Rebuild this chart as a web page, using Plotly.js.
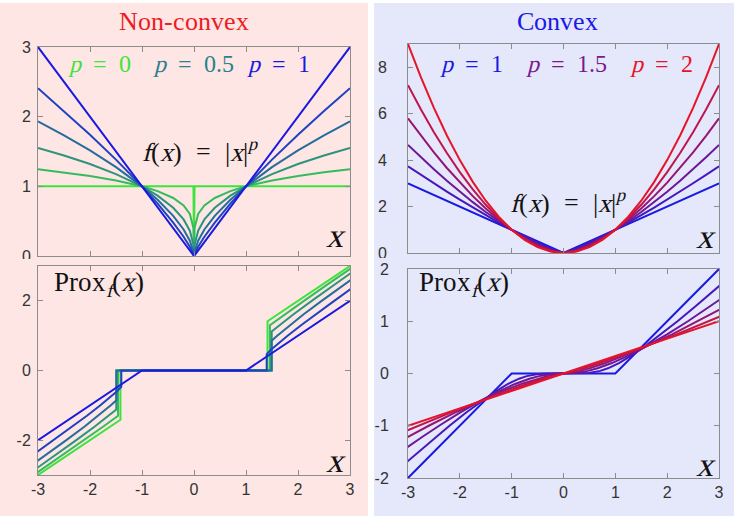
<!DOCTYPE html>
<html>
<head>
<meta charset="utf-8">
<script src="https://cdn.plot.ly/plotly-3.0.1.min.js"></script>
<style>
@font-face { font-family: 'MathSerif'; src: local('Liberation Serif'), local('LiberationSerif'), local('Liberation Serif Regular'); font-style: normal; font-weight: 400; }
html,body{margin:0;padding:0;background:#fff;}
#chart{width:734px;height:516px;}
</style>
</head>
<body>
<div id="chart"></div>
<script>
// ---------------- DATA ----------------
// Top-left: f(x)=|x|^p, p = 0, 0.2, 0.4, 0.6, 0.8, 1
const ncP = ['0', '0.2', '0.4', '0.6', '0.8', '1'];
const ncFx = [-3, -2.5, -2, -1.5, -1, -0.7, -0.4, -0.2, -0.08, -0.01, 0, 0.01, 0.08, 0.2, 0.4, 0.7, 1, 1.5, 2, 2.5, 3];
const ncF_p0  = [1, 1, 1, 1, 1, 1, 1, 1, 1, 1, 0, 1, 1, 1, 1, 1, 1, 1, 1, 1, 1];
const ncF_p02 = [1.246, 1.201, 1.149, 1.084, 1, 0.931, 0.833, 0.725, 0.603, 0.398, 0, 0.398, 0.603, 0.725, 0.833, 0.931, 1, 1.084, 1.149, 1.201, 1.246];
const ncF_p04 = [1.552, 1.443, 1.320, 1.176, 1, 0.867, 0.693, 0.525, 0.364, 0.158, 0, 0.158, 0.364, 0.525, 0.693, 0.867, 1, 1.176, 1.320, 1.443, 1.552];
const ncF_p06 = [1.933, 1.733, 1.516, 1.275, 1, 0.807, 0.577, 0.381, 0.220, 0.063, 0, 0.063, 0.220, 0.381, 0.577, 0.807, 1, 1.275, 1.516, 1.733, 1.933];
const ncF_p08 = [2.408, 2.081, 1.741, 1.383, 1, 0.752, 0.480, 0.276, 0.133, 0.025, 0, 0.025, 0.133, 0.276, 0.480, 0.752, 1, 1.383, 1.741, 2.081, 2.408];
const ncF_p1  = [3, 2.5, 2, 1.5, 1, 0.7, 0.4, 0.2, 0.08, 0.01, 0, 0.01, 0.08, 0.2, 0.4, 0.7, 1, 1.5, 2, 2.5, 3];

// Bottom-left: Prox_f(x) for the same p
const ncProxX_p0  = [-3, -1.414, -1.414, 1.414, 1.414, 3];
const ncProxY_p0  = [-3, -1.414, 0, 0, 1.414, 3];
const ncProxX_p02 = [-3.083, -2.596, -2.115, -1.737, -1.599, -1.460, -1.460, 1.460, 1.460, 1.599, 1.737, 2.115, 2.596, 3.083];
const ncProxY_p02 = [-3, -2.5, -2, -1.6, -1.45, -1.298, 0, 0, 1.298, 1.45, 1.6, 2, 2.5, 3];
const ncProxX_p04 = [-3.207, -2.731, -2.264, -1.902, -1.642, -1.494, -1.494, 1.494, 1.494, 1.642, 1.902, 2.264, 2.731, 3.207];
const ncProxY_p04 = [-3, -2.5, -2, -1.6, -1.3, -1.121, 0, 0, 1.121, 1.3, 1.6, 2, 2.5, 3];
const ncProxX_p06 = [-3.387, -2.916, -2.455, -2.097, -1.840, -1.6, -1.492, -1.492, 1.492, 1.492, 1.6, 1.840, 2.097, 2.455, 2.916, 3.387];
const ncProxY_p06 = [-3, -2.5, -2, -1.6, -1.3, -1, -0.853, 0, 0, 0.853, 1, 1.3, 1.6, 2, 2.5, 3];
const ncProxX_p08 = [-3.166, -2.697, -2.328, -2.059, -1.8, -1.637, -1.486, -1.398, -1.398, 1.398, 1.398, 1.486, 1.637, 1.8, 2.059, 2.328, 2.697, 3.166];
const ncProxY_p08 = [-2.5, -2, -1.6, -1.3, -1, -0.8, -0.6, -0.466, 0, 0, 0.466, 0.6, 0.8, 1, 1.3, 1.6, 2, 2.5];
const ncProxX_p1  = [-3, -1, 1, 3];
const ncProxY_p1  = [-2, 0, 0, 2];

// Top-right: f(x)=|x|^p, p = 1, 1.2, 1.4, 1.6, 1.8, 2
const cvP = ['1', '1.2', '1.4', '1.6', '1.8', '2'];
const cvFx = [-3, -2.75, -2.5, -2.25, -2, -1.75, -1.5, -1.25, -1, -0.75, -0.5, -0.25, 0, 0.25, 0.5, 0.75, 1, 1.25, 1.5, 1.75, 2, 2.25, 2.5, 2.75, 3];
const cvF_p1  = [3, 2.75, 2.5, 2.25, 2, 1.75, 1.5, 1.25, 1, 0.75, 0.5, 0.25, 0, 0.25, 0.5, 0.75, 1, 1.25, 1.5, 1.75, 2, 2.25, 2.5, 2.75, 3];
const cvF_p12 = [3.737, 3.367, 3.003, 2.646, 2.297, 1.958, 1.627, 1.307, 1, 0.708, 0.435, 0.189, 0, 0.189, 0.435, 0.708, 1, 1.307, 1.627, 1.958, 2.297, 2.646, 3.003, 3.367, 3.737];
const cvF_p14 = [4.656, 4.122, 3.607, 3.113, 2.639, 2.189, 1.764, 1.367, 1, 0.668, 0.379, 0.144, 0, 0.144, 0.379, 0.668, 1, 1.367, 1.764, 2.189, 2.639, 3.113, 3.607, 4.122, 4.656];
const cvF_p16 = [5.800, 5.047, 4.333, 3.660, 3.031, 2.448, 1.913, 1.429, 1, 0.631, 0.330, 0.109, 0, 0.109, 0.330, 0.631, 1, 1.429, 1.913, 2.448, 3.031, 3.660, 4.333, 5.047, 5.800];
const cvF_p18 = [7.225, 6.177, 5.203, 4.304, 3.482, 2.739, 2.075, 1.494, 1, 0.596, 0.287, 0.082, 0, 0.082, 0.287, 0.596, 1, 1.494, 2.075, 2.739, 3.482, 4.304, 5.203, 6.177, 7.225];
const cvF_p2  = [9, 7.5625, 6.25, 5.0625, 4, 3.0625, 2.25, 1.5625, 1, 0.5625, 0.25, 0.0625, 0, 0.0625, 0.25, 0.5625, 1, 1.5625, 2.25, 3.0625, 4, 5.0625, 6.25, 7.5625, 9];

// Bottom-right: Prox_f(x) for the same p
const cvProxX_p1  = [-3, -1, 1, 3];
const cvProxY_p1  = [-2, 0, 0, 2];
const cvProxX_p12 = [-3.150, -2.918, -2.565, -2.2, -1.883, -1.545, -1.323, -1.070, -0.857, -0.709, -0.488, -0.302, 0, 0.302, 0.488, 0.709, 0.857, 1.070, 1.323, 1.545, 1.883, 2.2, 2.565, 2.918, 3.150];
const cvProxY_p12 = [-1.8, -1.6, -1.3, -1, -0.75, -0.5, -0.35, -0.2, -0.1, -0.05, -0.01, -0.001, 0, 0.001, 0.01, 0.05, 0.1, 0.2, 0.35, 0.5, 0.75, 1, 1.3, 1.6, 1.8];
const cvProxX_p14 = [-3.290, -3.002, -2.706, -2.4, -1.998, -1.561, -1.270, -0.935, -0.657, -0.472, -0.232, -0.089, 0, 0.089, 0.232, 0.472, 0.657, 0.935, 1.270, 1.561, 1.998, 2.4, 2.706, 3.002, 3.290];
const cvProxY_p14 = [-1.6, -1.4, -1.2, -1, -0.75, -0.5, -0.35, -0.2, -0.1, -0.05, -0.01, -0.001, 0, 0.001, 0.01, 0.05, 0.1, 0.2, 0.35, 0.5, 0.75, 1, 1.2, 1.4, 1.6];
const cvProxX_p16 = [-3.358, -2.985, -2.6, -2.096, -1.556, -1.202, -0.809, -0.502, -0.315, -0.111, -0.026, 0, 0.026, 0.111, 0.315, 0.502, 0.809, 1.202, 1.556, 2.096, 2.6, 2.985, 3.358];
const cvProxY_p16 = [-1.4, -1.2, -1, -0.75, -0.5, -0.35, -0.2, -0.1, -0.05, -0.01, -0.001, 0, 0.001, 0.01, 0.05, 0.1, 0.2, 0.35, 0.5, 0.75, 1, 1.2, 1.4];
const cvProxX_p18 = [-3.043, -2.8, -2.18, -1.534, -1.127, -0.697, -0.385, -0.214, -0.055, 0, 0.055, 0.214, 0.385, 0.697, 1.127, 1.534, 2.18, 2.8, 3.043];
const cvProxY_p18 = [-1.1, -1, -0.75, -0.5, -0.35, -0.2, -0.1, -0.05, -0.01, 0, 0.01, 0.05, 0.1, 0.2, 0.35, 0.5, 0.75, 1, 1.1];
const cvProxX_p2  = [-3, 3];
const cvProxY_p2  = [-1, 1];

// Tick labels
const xTickVals = [-3, -2, -1, 0, 1, 2, 3];
const xTickText = ['-3', '-2', '-1', '0', '1', '2', '3'];
const yTL_vals = [0, 1, 2, 3];          const yTL_text = ['0', '1', '2', '3'];
const yBL_vals = [-2, 0, 2];            const yBL_text = ['-2', '0', '2'];
const yTR_vals = [0, 2, 4, 6, 8];       const yTR_text = ['0', '2', '4', '6', '8'];
const yBR_vals = [-2, -1, 0, 1, 2];     const yBR_text = ['-2', '-1', '0', '1', '2'];

// ---------------- STYLES ----------------
const ncColors = ['rgb(60,228,60)', 'rgb(52,188,92)', 'rgb(44,148,124)', 'rgb(38,108,156)', 'rgb(32,66,192)', 'rgb(25,25,225)'];
const cvColors = ['rgb(25,25,225)', 'rgb(68,24,190)', 'rgb(108,23,153)', 'rgb(148,22,116)', 'rgb(190,21,78)', 'rgb(230,20,40)'];
const pinkBg = '#fde6e4';
const blueBg = '#e5e7fa';

// ---------------- BUILD ----------------
const W = 734, H = 516;
const PX = v => v / W;
const PY = v => 1 - v / H;

const ncFys = [ncF_p0, ncF_p02, ncF_p04, ncF_p06, ncF_p08, ncF_p1];
const ncPxs = [ncProxX_p0, ncProxX_p02, ncProxX_p04, ncProxX_p06, ncProxX_p08, ncProxX_p1];
const ncPys = [ncProxY_p0, ncProxY_p02, ncProxY_p04, ncProxY_p06, ncProxY_p08, ncProxY_p1];
const cvFys = [cvF_p1, cvF_p12, cvF_p14, cvF_p16, cvF_p18, cvF_p2];
const cvPxs = [cvProxX_p1, cvProxX_p12, cvProxX_p14, cvProxX_p16, cvProxX_p18, cvProxX_p2];
const cvPys = [cvProxY_p1, cvProxY_p12, cvProxY_p14, cvProxY_p16, cvProxY_p18, cvProxY_p2];

const traces = [];
function line(x, y, xa, ya, color, name) {
  traces.push({x: x, y: y, xaxis: xa, yaxis: ya, mode: 'lines', name: name,
    line: {color: color, width: 2}, hoverinfo: 'skip', showlegend: false});
}
for (let i = 0; i < ncP.length; i++) line(ncFx, ncFys[i], 'x', 'y', ncColors[i], 'p=' + ncP[i]);
for (let i = 0; i < ncP.length; i++) line(ncPxs[i], ncPys[i], 'x2', 'y2', ncColors[i], 'prox p=' + ncP[i]);
for (let i = 0; i < cvP.length; i++) line(cvFx, cvFys[i], 'x3', 'y3', cvColors[i], 'p=' + cvP[i]);
for (let i = 0; i < cvP.length; i++) line(cvPxs[i], cvPys[i], 'x4', 'y4', cvColors[i], 'prox p=' + cvP[i]);

const tickFont = {family: 'Liberation Sans, Arial, sans-serif', size: 16, color: '#333333'};
function axis(extra) {
  return Object.assign({
    showgrid: false, zeroline: false, showline: true, mirror: 'ticks',
    linecolor: '#8c8c8c', linewidth: 1, ticks: 'inside', ticklen: 5, tickcolor: '#8c8c8c',
    tickfont: tickFont, fixedrange: true, tickmode: 'array'
  }, extra);
}
const xL = [PX(38), PX(350)];
const xR = [PX(408), PX(719)];

const serif = 'MathSerif, Liberation Serif, Times New Roman, serif';
function ann(text, x, y, size, color) {
  return {text: text, x: PX(x), y: PY(y), xref: 'paper', yref: 'paper', showarrow: false,
    xanchor: 'center', yanchor: 'middle', font: {family: serif, size: size, color: color}};
}
const S = '\u00a0';
const eq = S + S + '=' + S + S;
const fLabel = '<i>f</i>(<i>x</i>)' + eq + '|<i>x</i>|<sup><i>p</i></sup>';
const proxLabel = 'Prox<sub><i>f</i></sub>(<i>x</i>)';

const layout = {
  width: W, height: H,
  margin: {l: 0, r: 0, t: 0, b: 0},
  paper_bgcolor: '#ffffff', plot_bgcolor: 'rgba(0,0,0,0)',
  showlegend: false,
  xaxis:  axis({domain: xL, anchor: 'y',  range: [-3, 3], tickvals: xTickVals, ticktext: xTickText, showticklabels: false}),
  yaxis:  axis({domain: [PY(256), PY(47)], anchor: 'x', range: [0, 3], tickvals: yTL_vals, ticktext: yTL_text, ticklabelstandoff: 3}),
  xaxis2: axis({domain: xL, anchor: 'y2', range: [-3, 3], tickvals: xTickVals, ticktext: xTickText}),
  yaxis2: axis({domain: [PY(475), PY(266)], anchor: 'x2', range: [-3, 3], tickvals: yBL_vals, ticktext: yBL_text, ticklabelstandoff: 3}),
  xaxis3: axis({domain: xR, anchor: 'y3', range: [-3, 3], tickvals: xTickVals, ticktext: xTickText, showticklabels: false}),
  yaxis3: axis({domain: [PY(253), PY(44)], anchor: 'x3', range: [0, 9], tickvals: yTR_vals, ticktext: yTR_text, ticklabelstandoff: 17}),
  xaxis4: axis({domain: xR, anchor: 'y4', range: [-3, 3], tickvals: xTickVals, ticktext: xTickText}),
  yaxis4: axis({domain: [PY(478), PY(269)], anchor: 'x4', range: [-2, 2], tickvals: yBR_vals, ticktext: yBR_text, ticklabelstandoff: 15}),
  shapes: [
    {type: 'rect', xref: 'paper', yref: 'paper', x0: PX(0), x1: PX(368), y0: PY(516), y1: PY(3), fillcolor: pinkBg, line: {width: 0}, layer: 'below'},
    {type: 'rect', xref: 'paper', yref: 'paper', x0: PX(374), x1: PX(734), y0: PY(516), y1: PY(3), fillcolor: blueBg, line: {width: 0}, layer: 'below'},
    {type: 'rect', xref: 'paper', yref: 'paper', x0: PX(2), x1: PX(36), y0: PY(265), y1: PY(259), fillcolor: pinkBg, line: {width: 0}, layer: 'above'},
    {type: 'rect', xref: 'paper', yref: 'paper', x0: PX(376), x1: PX(405), y0: PY(262), y1: PY(258), fillcolor: blueBg, line: {width: 0}, layer: 'above'}
  ],
  annotations: [
    ann('Non-convex', 184, 22, 26, '#ee1c24'),
    ann('Convex', 557, 22, 26, '#1a1ae8'),
    ann('<i>p</i>' + eq + '0', 99, 64, 24, ncColors[0]),
    ann('<i>p</i>' + eq + '0.5', 193, 64, 24, 'rgb(44,128,140)'),
    ann('<i>p</i>' + eq + '1', 278, 64, 24, ncColors[5]),
    ann(fLabel, 200, 150, 26, '#111111'),
    ann('<i>x</i>', 336, 236, 34, '#111111'),
    ann(proxLabel, 99, 284, 27, '#111111'),
    ann('<i>x</i>', 336, 460, 34, '#111111'),
    ann('<i>p</i>' + eq + '1', 471, 64, 24, cvColors[0]),
    ann('<i>p</i>' + eq + '1.5', 566, 64, 24, 'rgb(122,24,140)'),
    ann('<i>p</i>' + eq + '2', 661, 64, 24, cvColors[5]),
    ann(fLabel, 568, 201, 26, '#111111'),
    ann('<i>x</i>', 706, 237, 34, '#111111'),
    ann(proxLabel, 464, 284, 27, '#111111'),
    ann('<i>x</i>', 706, 464, 34, '#111111')
  ]
};

const config = {displayModeBar: false, staticPlot: true};
Plotly.newPlot('chart', traces, layout, config);
if (document.fonts && document.fonts.load) {
  Promise.all([document.fonts.load('24px MathSerif'), document.fonts.load('italic 24px MathSerif')])
    .then(() => Plotly.react('chart', traces, layout, config))
    .catch(() => {});
}
</script>
</body>
</html>
